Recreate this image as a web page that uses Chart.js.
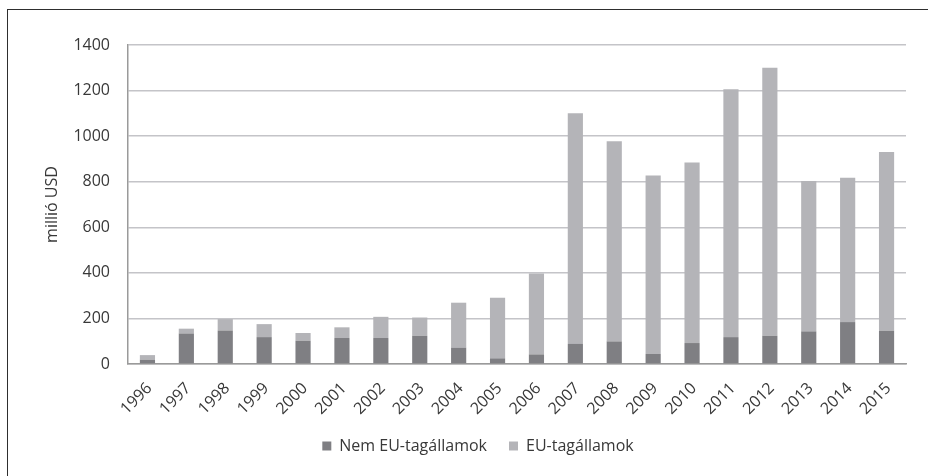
<!DOCTYPE html>
<html lang="hu">
<head>
<meta charset="utf-8">
<title>Működőtőke-befektetések</title>
<script src="https://cdn.jsdelivr.net/npm/chart.js@4"></script>
<style>
  html, body { margin: 0; padding: 0; background: #fff; }
  #wrap { position: relative; width: 928px; height: 476px; overflow: hidden; }
  #chart { position: absolute; left: 0; top: 0; }
  #frame {
    position: absolute; left: 7px; top: 9px; width: 960px; height: 500px;
    border-left: 1px solid #2e2e2e; border-top: 1px solid #2e2e2e;
    pointer-events: none;
  }
</style>
</head>
<body>
<div id="wrap">
  <canvas id="chart" width="928" height="476"></canvas>
  <div id="frame"></div>
</div>
<script>
// Years on the category axis
const years = ['1996', '1997', '1998', '1999', '2000', '2001', '2002', '2003', '2004', '2005',
               '2006', '2007', '2008', '2009', '2010', '2011', '2012', '2013', '2014', '2015'];

// Non-EU member states (millió USD)
const nonEuMembers = [19, 134, 147, 118, 102, 114, 114, 124, 72, 25,
                      42, 88, 99, 44, 92, 118, 124, 143, 184, 146];

// EU member states (millió USD), stacked on top
const euMembers = [20, 21, 50, 57, 34, 47, 93, 80, 197, 266,
                   355, 1013, 879, 783, 792, 1088, 1176, 660, 633, 784];

// Value axis ticks
const yTickValues = [0, 200, 400, 600, 800, 1000, 1200, 1400];

const seriesNames = ['Nem EU-tagállamok', 'EU-tagállamok'];
const textColor = '#383838';
const baseFont = { family: "'Open Sans', sans-serif", size: 16 };

new Chart(document.getElementById('chart'), {
  type: 'bar',
  data: {
    labels: years,
    datasets: [
      {
        label: seriesNames[0],
        data: nonEuMembers,
        backgroundColor: '#7f7f83',
        borderWidth: 0,
        barPercentage: 0.39,
        categoryPercentage: 1.0
      },
      {
        label: seriesNames[1],
        data: euMembers,
        backgroundColor: '#b4b4b8',
        borderWidth: 0,
        barPercentage: 0.39,
        categoryPercentage: 1.0
      }
    ]
  },
  options: {
    responsive: false,
    animation: false,
    devicePixelRatio: 1,
    layout: { padding: { left: 50, right: 22, top: 45, bottom: 12 } },
    plugins: {
      legend: {
        position: 'bottom',
        labels: {
          boxWidth: 9,
          boxHeight: 9,
          padding: 22,
          color: textColor,
          font: baseFont
        }
      },
      tooltip: { enabled: false }
    },
    scales: {
      x: {
        stacked: true,
        grid: { display: false, drawTicks: false },
        border: { display: true, color: '#9a9a9a', width: 1.5 },
        ticks: {
          autoSkip: false,
          minRotation: 45,
          maxRotation: 45,
          padding: 15,
          labelOffset: 2,
          color: textColor,
          font: baseFont
        },
        afterFit: (scale) => { scale.height = 52; }
      },
      y: {
        stacked: true,
        min: 0,
        max: 1400,
        afterBuildTicks: (scale) => {
          scale.ticks = yTickValues.map(v => ({ value: v }));
        },
        grid: { color: '#c4c4c8', lineWidth: 1.5, drawTicks: false },
        border: { display: true, color: '#9a9a9a', width: 1.5 },
        ticks: {
          padding: 18,
          color: textColor,
          font: baseFont,
          callback: (value) => String(value)
        },
        title: {
          display: true,
          text: 'millió USD',
          color: textColor,
          font: baseFont,
          padding: { top: -7, bottom: 0 }
        },
        afterFit: (scale) => { scale.width = 78; }
      }
    }
  }
});
</script>
</body>
</html>
